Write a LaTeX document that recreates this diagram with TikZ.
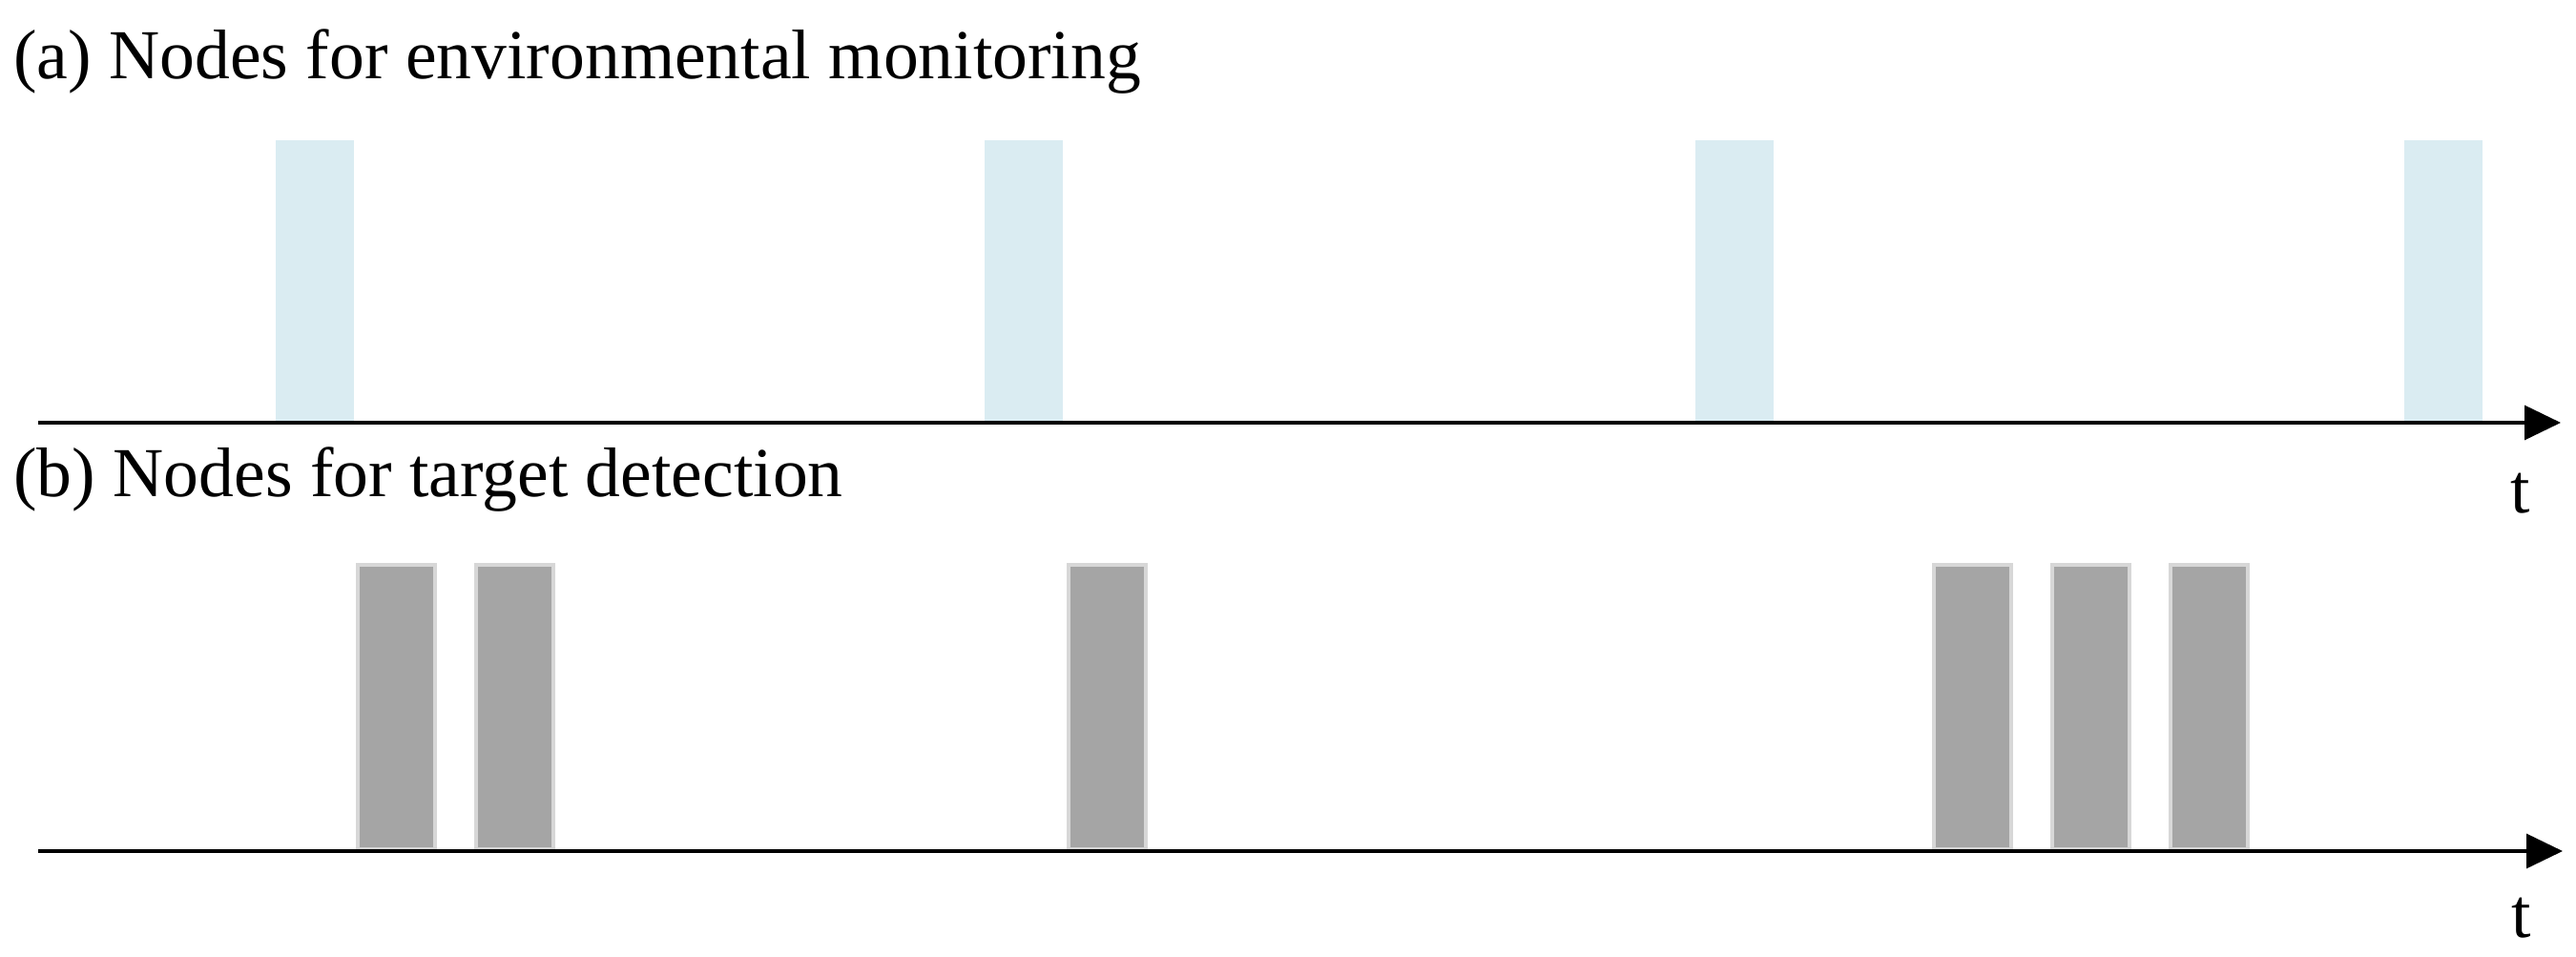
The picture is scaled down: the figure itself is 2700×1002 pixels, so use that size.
\documentclass[tikz,border=0pt]{standalone}
\usepackage{fontspec}
\setmainfont{Liberation Serif}
\usetikzlibrary{arrows.meta}
\definecolor{envblue}{RGB}{218,236,242}
\definecolor{tgtgray}{RGB}{165,165,165}
\definecolor{tgtedge}{RGB}{215,215,215}
\begin{document}
\begin{tikzpicture}[x=0.5pt,y=-0.5pt,
  lbl/.style={font=\fontsize{36.8pt}{40pt}\selectfont, inner sep=0pt, anchor=base west},
  tlbl/.style={font=\fontsize{36.8pt}{40pt}\selectfont, inner sep=0pt, anchor=base},
  axisline/.style={line width=1.6pt, -{Triangle[length=19pt,width=18pt]}},
  envbox/.style={fill=envblue, draw=none, inner sep=0pt, minimum width=41pt, minimum height=148pt, anchor=south west},
  tgtbox/.style={fill=tgtgray, draw=tgtedge, line width=2pt, inner sep=0pt, minimum width=40.5pt, minimum height=149pt, anchor=south west}]
\useasboundingbox (0,0) rectangle (2700,1002);
% labels
\node[lbl] (la) at (14,82) {(a) Nodes for environmental monitoring};
\node[lbl] (lb) at (14,520) {(b) Nodes for target detection};
% top boxes
\node[envbox] (e1) at (289,443) {};
\node[envbox] (e2) at (1032,443) {};
\node[envbox] (e3) at (1777,443) {};
\node[envbox] (e4) at (2520,443) {};
% bottom boxes
\node[tgtbox] (g1) at (373,892) {};
\node[tgtbox] (g2) at (497,892) {};
\node[tgtbox] (g3) at (1118,892) {};
\node[tgtbox] (g4) at (2025,892) {};
\node[tgtbox] (g5) at (2149,892) {};
\node[tgtbox] (g6) at (2273,892) {};
% axes
\coordinate (a0) at (40,443);
\coordinate (a1) at (2684,443);
\coordinate (b0) at (40,892);
\coordinate (b1) at (2686,892);
\draw[axisline] (a0) -- (a1);
\draw[axisline] (b0) -- (b1);
\node[tlbl] (ta) at (2642,537) {t};
\node[tlbl] (tb) at (2643,982) {t};
\end{tikzpicture}
\end{document}
